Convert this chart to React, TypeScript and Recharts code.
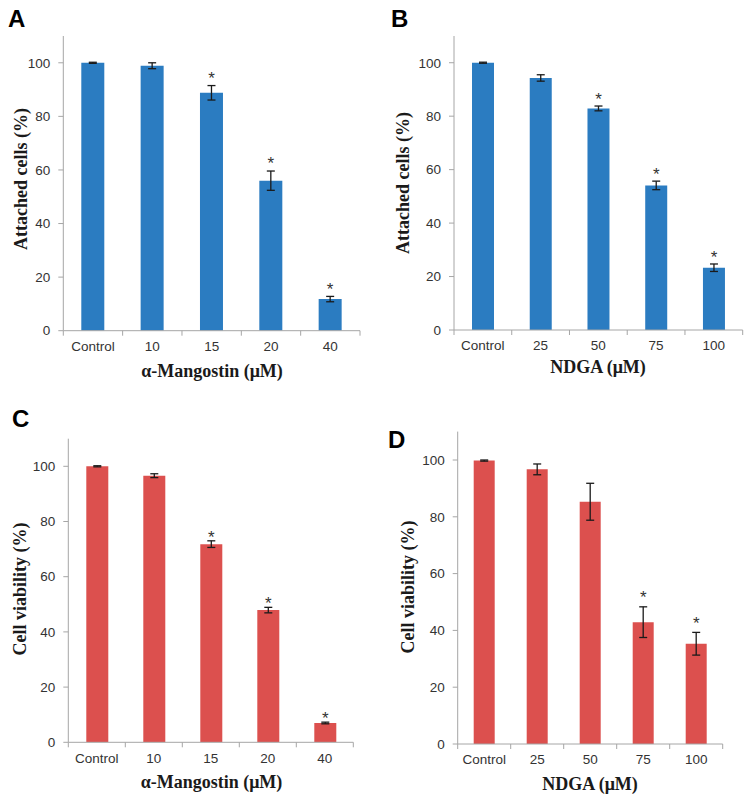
import React from 'react';
import { BarChart, Bar, XAxis, YAxis, ErrorBar, LabelList } from 'recharts';

// ---- data ----
const mangostinDoses = ['Control', '10', '15', '20', '40'];
const ndgaDoses = ['Control', '25', '50', '75', '100'];

const attachedMangostin = [100, 98.9, 88.8, 56.0, 11.8];
const attachedMangostinErr = [0.2, 1.1, 2.7, 3.6, 1.0];
const attachedMangostinSig = [false, false, true, true, true];

const attachedNdga = [100, 94.3, 82.9, 54.1, 23.3];
const attachedNdgaErr = [0.2, 1.2, 0.9, 1.6, 1.4];
const attachedNdgaSig = [false, false, true, true, true];

const viabilityMangostin = [100, 96.6, 71.8, 47.9, 7.0];
const viabilityMangostinErr = [0.2, 0.7, 1.2, 1.0, 0.3];
const viabilityMangostinSig = [false, false, true, true, true];

const viabilityNdga = [99.8, 96.7, 85.3, 42.9, 35.3];
const viabilityNdgaErr = [0.2, 1.9, 6.5, 5.4, 4.0];
const viabilityNdgaSig = [false, false, false, true, true];

const yTicks = [0, 20, 40, 60, 80, 100];

const BLUE = '#2b7cc1';
const RED = '#dc504e';
const AXIS = '#a6a6a6';
const SANS = 'Liberation Sans, Arial, sans-serif';
const SERIF = 'Liberation Serif, Times New Roman, serif';
const TICK_FS = 13.5;

function build(cats: string[], vals: number[], errs: number[], sig: boolean[]) {
  return cats.map((c, i) => ({ cat: c, v: vals[i], err: errs[i], sig: sig[i] }));
}

type PanelProps = {
  left: number; top: number; w: number; h: number;
  margin: { top: number; right: number; bottom: number; left: number };
  data: { cat: string; v: number; err: number; sig: boolean }[];
  color: string; barSize: number; starGap: number;
};

const Y_AXIS_W = 40;
const X_AXIS_H = 30;

function Panel({ left, top, w, h, margin, data, color, barSize, starGap }: PanelProps) {
  const plotW = w - margin.left - margin.right - Y_AXIS_W;
  const half = plotW / data.length / 2;
  const axisY = h - margin.bottom - X_AXIS_H;
  const n = data.length;

  const XTick = (props: any) => {
    const { x, index, payload } = props;
    return (
      <g>
        <line x1={x - half} x2={x - half} y1={axisY} y2={axisY + 5} stroke={AXIS} strokeWidth={1} />
        {index === n - 1 && (
          <line x1={x + half} x2={x + half} y1={axisY} y2={axisY + 5} stroke={AXIS} strokeWidth={1} />
        )}
        <text x={x} y={axisY + 20.3} textAnchor="middle" fontSize={TICK_FS} fill="#333" fontFamily={SANS}>
          {payload.value}
        </text>
      </g>
    );
  };

  const Star = (props: any) => {
    const vb = props.viewBox && props.viewBox.width !== undefined ? props.viewBox : props;
    const { x, y, width, height } = vb;
    const idx = props.index;
    const d = data[idx];
    if (!d || !d.sig) return null;
    const perUnit = height / d.v;
    const errTop = y - d.err * perUnit;
    return (
      <text x={x + width / 2} y={errTop - starGap + 9.7} textAnchor="middle" fontSize={17} fill="#333" fontFamily={SANS}>
        *
      </text>
    );
  };

  return (
    <div style={{ position: 'absolute', left, top, width: w, height: h }}>
      <BarChart width={w} height={h} data={data} margin={margin}>
        <XAxis
          dataKey="cat"
          height={X_AXIS_H}
          interval={0}
          tickLine={false}
          tickSize={0}
          tickMargin={0}
          axisLine={{ stroke: AXIS }}
          tick={XTick}
        />
        <YAxis
          type="number"
          domain={[0, 110]}
          ticks={yTicks}
          width={Y_AXIS_W}
          tickSize={5}
          tickMargin={8}
          allowDataOverflow
          axisLine={{ stroke: AXIS }}
          tickLine={{ stroke: AXIS }}
          tick={{ fontSize: TICK_FS, fill: '#333', fontFamily: SANS }}
        />
        <Bar dataKey="v" fill={color} barSize={barSize} isAnimationActive={false}>
          <ErrorBar dataKey="err" width={4} stroke="#1a1a1a" strokeWidth={1.3} direction="y" isAnimationActive={false} />
          <LabelList dataKey="v" content={Star} />
        </Bar>
      </BarChart>
    </div>
  );
}

export default function App() {
  return (
    <div style={{ position: 'absolute', left: 0, top: 0, width: 749, height: 797, background: '#fff' }}>
      <Panel
        left={0} top={0} w={375} h={400}
        margin={{ top: 36, right: 15, bottom: 39.3, left: 23.3 }}
        data={build(mangostinDoses, attachedMangostin, attachedMangostinErr, attachedMangostinSig)}
        color={BLUE} barSize={23} starGap={11.5}
      />
      <Panel
        left={375} top={0} w={374} h={400}
        margin={{ top: 36, right: 6.3, bottom: 40, left: 39 }}
        data={build(ndgaDoses, attachedNdga, attachedNdgaErr, attachedNdgaSig)}
        color={BLUE} barSize={22} starGap={10.5}
      />
      <Panel
        left={0} top={400} w={375} h={397}
        margin={{ top: 38.7, right: 21.7, bottom: 24.7, left: 28.3 }}
        data={build(mangostinDoses, viabilityMangostin, viabilityMangostinErr, viabilityMangostinSig)}
        color={RED} barSize={22} starGap={8}
      />
      <Panel
        left={375} top={400} w={374} h={397}
        margin={{ top: 31.6, right: 26.3, bottom: 23, left: 42.7 }}
        data={build(ndgaDoses, viabilityNdga, viabilityNdgaErr, viabilityNdgaSig)}
        color={RED} barSize={21} starGap={13.5}
      />
      <svg width={749} height={797} style={{ position: 'absolute', left: 0, top: 0, pointerEvents: 'none' }}>
        <g fontFamily={SANS} fontWeight="bold" fontSize={24} fill="#000">
          <text x={8} y={27}>A</text>
          <text x={391} y={27}>B</text>
          <text x={12} y={427}>C</text>
          <text x={388} y={448}>D</text>
        </g>
        <g fontFamily={SERIF} fontWeight="bold" fontSize={18} fill="#1a1a1a" textAnchor="middle">
          <text x={212} y={377}>α-Mangostin (μM)</text>
          <text x={598} y={373}>NDGA (μM)</text>
          <text x={211.5} y={788}>α-Mangostin (μM)</text>
          <text x={590} y={790}>NDGA (μM)</text>
          <text transform="translate(27,179) rotate(-90)">Attached cells (%)</text>
          <text transform="translate(409,183) rotate(-90)">Attached cells (%)</text>
          <text transform="translate(26,589) rotate(-90)">Cell viability (%)</text>
          <text transform="translate(414,587) rotate(-90)">Cell viability (%)</text>
        </g>
      </svg>
    </div>
  );
}
